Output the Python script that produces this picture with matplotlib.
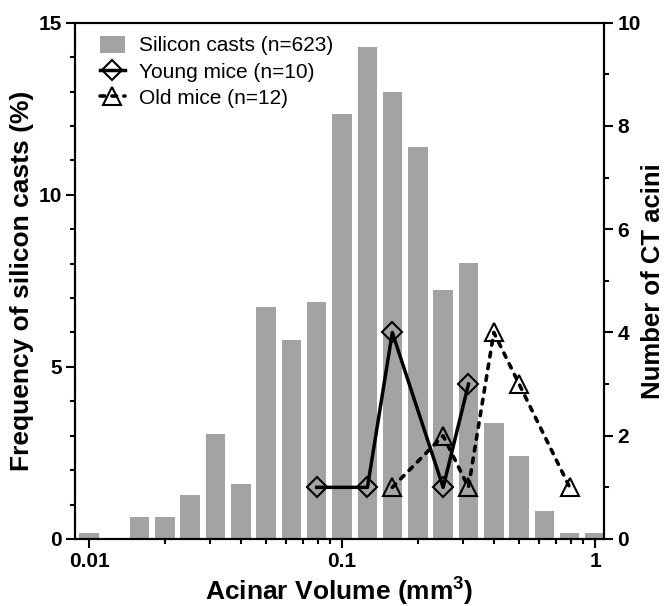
import numpy as np
import matplotlib
matplotlib.use("Agg")
import matplotlib.pyplot as plt
from matplotlib.ticker import FixedLocator, FuncFormatter, MultipleLocator, NullFormatter

plt.rcParams['font.family'] = ['Liberation Sans', 'DejaVu Sans']
plt.rcParams['mathtext.fontset'] = 'custom'
plt.rcParams['mathtext.rm'] = 'Liberation Sans'
plt.rcParams['mathtext.bf'] = 'Liberation Sans:bold'

# Histogram of silicon casts: bin centres (mm^3) and frequency (%)
bin_centers = [0.01, 0.0126, 0.0158, 0.02, 0.0251, 0.0316, 0.0398, 0.0501, 0.0631,
               0.0794, 0.1, 0.126, 0.158, 0.2, 0.251, 0.316, 0.398, 0.501, 0.631,
               0.794, 1.0]
cast_freq = [0.16, 0.0, 0.64, 0.64, 1.28, 3.05, 1.61, 6.74, 5.78, 6.90, 12.36,
             14.29, 13.00, 11.40, 7.22, 8.03, 3.37, 2.41, 0.80, 0.16, 0.16]

# CT acini counts
young_x = [0.0794, 0.126, 0.158, 0.251, 0.316]
young_n = [1, 1, 4, 1, 3]
old_x = [0.158, 0.251, 0.316, 0.398, 0.501, 0.794]
old_n = [1, 2, 1, 4, 3, 1]

labels = ['Silicon casts (n=623)', 'Young mice (n=10)', 'Old mice (n=12)']

fig = plt.figure(figsize=(6.65, 6.06), dpi=100)
ax = fig.add_axes([0.1128, 0.1106, 0.7955, 0.8519])
ax2 = ax.twinx()

half = 0.0385  # half bar width in decades
c = np.array(bin_centers)
lefts = c * 10 ** (-half)
widths = c * 10 ** half - lefts
bars = ax.bar(lefts, cast_freq, width=widths, align='edge', color='#a3a3a3',
              edgecolor='none', zorder=2)

ax.set_xscale('log')
ax.set_xlim(0.0088, 1.085)
ax.set_ylim(0, 15)
ax2.set_ylim(0, 10)

l1, = ax2.plot(young_x, young_n, color='black', lw=2.5, marker='D', ms=10.5,
               mfc='none', mec='black', mew=1.5, zorder=3)
l2, = ax2.plot(old_x, old_n, color='black', lw=2.6, linestyle=(0, (1.3, 2.0)),
               dash_capstyle='round', marker='^', ms=13, mfc='none', mec='black',
               mew=1.5, zorder=3)

ax.xaxis.set_major_locator(FixedLocator([0.01, 0.1, 1]))
ax.xaxis.set_major_formatter(FuncFormatter(lambda v, p: '{:g}'.format(v)))
minors = [m * d for d in (0.01, 0.1) for m in range(2, 10)]
ax.xaxis.set_minor_locator(FixedLocator(minors))
ax.xaxis.set_minor_formatter(NullFormatter())

ax.yaxis.set_major_locator(MultipleLocator(5))
ax.yaxis.set_minor_locator(MultipleLocator(1))
ax2.yaxis.set_major_locator(MultipleLocator(2))
ax2.yaxis.set_minor_locator(MultipleLocator(1))

for a in (ax, ax2):
    for s in a.spines.values():
        s.set_linewidth(1.5)
    a.tick_params(which='major', length=6.5, width=1.5, labelsize=15, pad=3)
    a.tick_params(which='minor', length=3.5, width=1.5)
    for t in a.get_xticklabels() + a.get_yticklabels():
        t.set_fontweight('bold')

ax.set_xlabel(r'Acinar Volume (mm$^{\mathbf{3}}$)', fontsize=19, fontweight='bold', labelpad=2)
ax.set_ylabel('Frequency of silicon casts (%)', fontsize=19, fontweight='bold', labelpad=3)
ax2.set_ylabel('Number of CT acini', fontsize=18.5, fontweight='bold', labelpad=0)

ax2.legend([bars, l1, l2], labels, loc='upper left', bbox_to_anchor=(0.047, 0.975),
           frameon=False, fontsize=15, borderpad=0, borderaxespad=0,
           handlelength=1.2, handleheight=0.9, handletextpad=0.7, labelspacing=0.3)

fig.savefig('out.png', dpi=100)
